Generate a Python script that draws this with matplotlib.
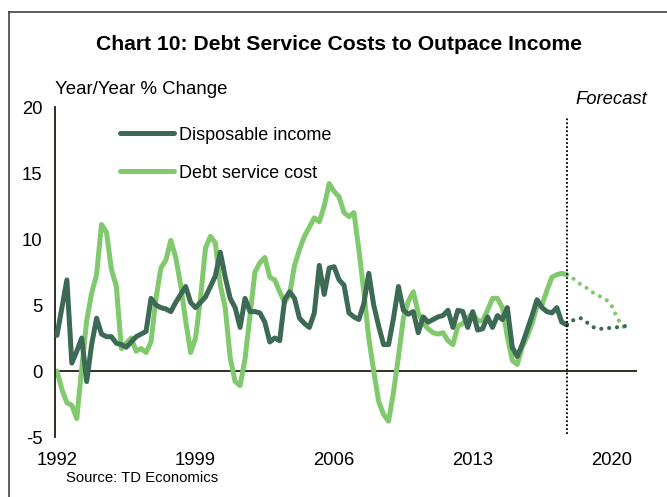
import matplotlib.pyplot as plt
from matplotlib.lines import Line2D
import numpy as np

plt.rcParams['font.family'] = ['Liberation Sans', 'DejaVu Sans']
plt.rcParams['axes.unicode_minus'] = False

# quarterly, 1992Q1 - 2017Q4 (year/year % change)
start_year = 1992
income = [2.7, 4.8, 6.9, 0.6, 1.5, 2.5, -0.8, 2.0, 4.0, 2.8,
          2.6, 2.6, 2.1, 2.0, 1.8, 2.2, 2.6, 2.8, 3.0, 5.5,
          5.0, 4.8, 4.7, 4.5, 5.2, 5.8, 6.4, 5.2, 4.8, 5.2,
          5.6, 6.4, 7.2, 9.0, 7.1, 5.5, 4.8, 3.3, 5.5, 4.5,
          4.5, 4.4, 3.7, 2.2, 2.5, 2.3, 5.4, 6.0, 5.5, 4.0,
          3.6, 3.3, 4.4, 8.0, 5.8, 7.8, 7.9, 6.9, 6.5, 4.4,
          4.1, 3.9, 5.1, 7.4, 5.0, 3.4, 2.0, 2.0, 4.0, 6.4,
          4.6, 4.3, 4.5, 2.9, 4.1, 3.7, 3.9, 4.1, 4.2, 4.6,
          3.3, 4.6, 4.5, 3.3, 4.5, 3.1, 3.2, 4.1, 3.3, 4.2,
          3.9, 4.8, 1.8, 1.1, 2.0, 3.1, 4.2, 5.4, 4.8, 4.5,
          4.4, 4.8, 3.7, 3.5]
debt = [0.0, -1.4, -2.4, -2.6, -3.6, 0.2, 3.8, 5.9, 7.3, 11.1,
        10.5, 7.7, 6.4, 1.7, 2.1, 2.5, 1.5, 1.7, 1.4, 2.2,
        5.5, 7.8, 8.4, 9.9, 8.6, 6.5, 3.8, 1.4, 2.5, 5.5,
        9.3, 10.2, 9.7, 6.5, 4.8, 1.0, -0.8, -1.1, 0.9, 4.2,
        7.5, 8.2, 8.6, 7.1, 6.9, 6.0, 5.2, 5.8, 8.0, 9.2,
        10.2, 10.9, 11.6, 11.3, 12.5, 14.2, 13.6, 13.2, 12.0, 11.7,
        12.0, 9.2, 6.0, 2.5, 0.0, -2.3, -3.3, -3.8, -1.6, 1.1,
        4.0, 5.3, 6.0, 4.4, 3.6, 3.2, 2.9, 2.8, 2.9, 2.3,
        2.0, 3.4, 3.6, 4.0, 4.4, 3.8, 3.8, 4.6, 5.5, 5.5,
        4.8, 2.6, 0.8, 0.5, 1.8, 2.6, 3.6, 4.9, 5.0, 6.1,
        7.1, 7.3, 7.4, 7.3]

# forecast, 2017Q4 - 2020Q4
income_fc = [3.5, 3.8, 3.95, 4.0, 3.7, 3.4, 3.2, 3.2, 3.2, 3.3, 3.3, 3.4, 3.4]
debt_fc = [7.3, 7.1, 6.8, 6.5, 6.3, 6.0, 5.8, 5.6, 5.4, 5.0, 4.2, 3.5, 3.2]

year_ticks = [1992, 1999, 2006, 2013, 2020]
y_ticks = [-5, 0, 5, 10, 15, 20]

dark = '#3d6a54'
light = '#80c96c'

x_hist = start_year + np.arange(len(income)) / 4
fc_start = x_hist[-1]
x_fc = fc_start + np.arange(len(income_fc)) / 4

fig = plt.figure(figsize=(6.67, 4.97), dpi=100)
ax = fig.add_axes([55/667, 1-437/497, 582/667, 330/497])

ax.plot(x_hist, income, color=dark, lw=3.6, solid_joinstyle='round',
        solid_capstyle='round', label='Disposable income', zorder=3)
ax.plot(x_hist, debt, color=light, lw=3.6, solid_joinstyle='round',
        solid_capstyle='round', label='Debt service cost', zorder=2)
ax.plot(x_fc, income_fc, color=dark, lw=3.0, linestyle=(0, (0.01, 1.9)),
        dash_capstyle='round', zorder=3)
ax.plot(x_fc, debt_fc, color=light, lw=3.0, linestyle=(0, (0.01, 1.9)),
        dash_capstyle='round', zorder=2)

ax.axhline(0, color='#1e1e10', lw=1.3, zorder=1)
ax.plot([fc_start, fc_start], [-4.8, 19.2], color='black', lw=1.3,
        linestyle=(0, (1, 1.2)), zorder=4)

ax.set_xlim(1991.9, 2021.3)
ax.set_ylim(-5, 20)
ax.set_xticks(year_ticks)
ax.set_yticks(y_ticks)
ax.tick_params(length=0, labelsize=13.3)
ax.tick_params(axis='x', pad=11)
ax.tick_params(axis='y', pad=9)
for s in ['top', 'right', 'bottom']:
    ax.spines[s].set_visible(False)
ax.spines['left'].set_color('#1e1e10')
ax.spines['left'].set_linewidth(1.3)

leg = ax.legend(loc='upper left', bbox_to_anchor=(0.111, 0.94), frameon=False,
                fontsize=13, handlelength=3.0, handletextpad=0.3,
                labelspacing=1.15, borderpad=0, borderaxespad=0)
for h in leg.get_lines():
    h.set_solid_capstyle('round')
    h.set_linewidth(3.6)

ax.text(2020.0, 20.55, 'Forecast', style='italic', fontsize=13.3,
        ha='center', va='center')

fig.text(0.508, 1-45/497, 'Chart 10: Debt Service Costs to Outpace Income',
         fontsize=15.2, fontweight='bold', ha='center', va='center')
fig.text(55/667, 1-90/497, 'Year/Year % Change', fontsize=13.4,
         ha='left', va='center')
fig.text(66/667, 1-478/497, 'Source: TD Economics', fontsize=10.7,
         ha='left', va='center')

# outer frame (left and top edges)
fig.add_artist(Line2D([8.5/667, 8.5/667], [0, 1-12/497], color='#333333', lw=1.1))
fig.add_artist(Line2D([8.5/667, 1], [1-12/497, 1-12/497], color='#333333', lw=1.1))

fig.savefig('out.png', dpi=100)
